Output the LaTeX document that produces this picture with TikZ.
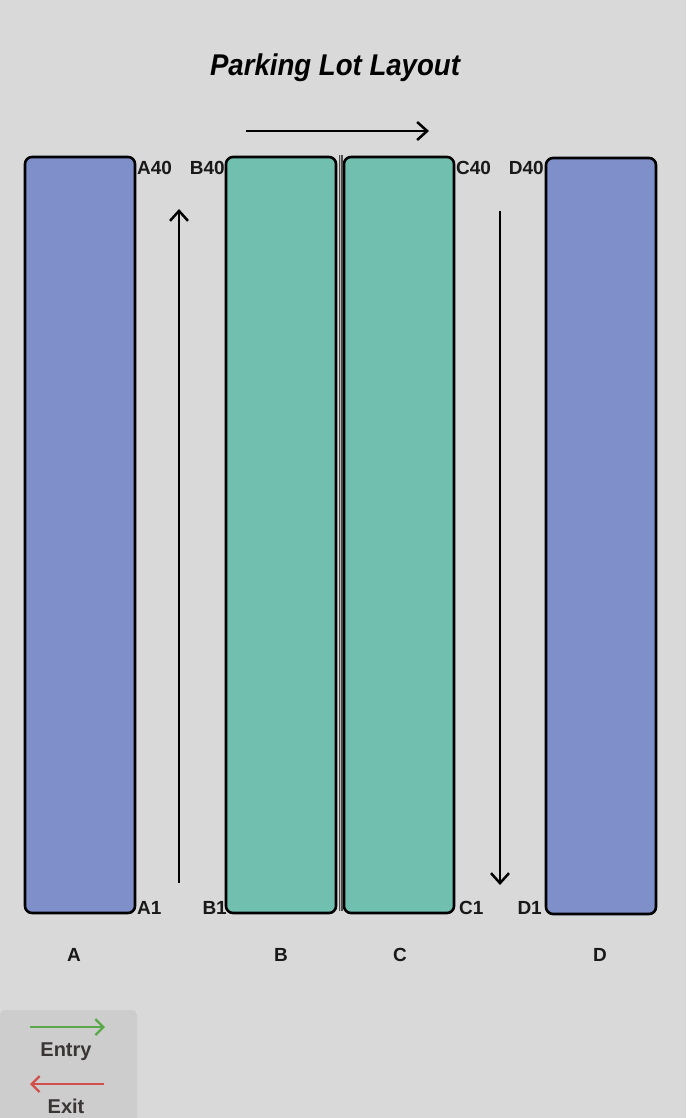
\documentclass[tikz,border=0pt]{standalone}
\usepackage{fontspec}
\setmainfont{Liberation Sans}
\usetikzlibrary{arrows.meta}
\definecolor{bgc}{HTML}{D9D9D9}
\definecolor{blueslot}{HTML}{7E8FC9}
\definecolor{greenslot}{HTML}{70BFAF}
\definecolor{legendbg}{HTML}{CDCDCD}
\definecolor{entryc}{HTML}{5BA84A}
\definecolor{exitc}{HTML}{D0504C}
\definecolor{legtext}{HTML}{3A3535}
\tikzset{
  row/.style={draw=black, line width=2.6pt, rounded corners=7pt},
  lab/.style={font=\fontsize{19}{19}\selectfont\bfseries, text=black!90, inner sep=0pt},
  rowlab/.style={font=\fontsize{19}{19}\selectfont\bfseries, text=black!90, inner sep=0pt},
  flow/.style={line width=2.5pt, -{Straight Barb[length=10pt,width=18pt,line width=2.5pt]}},
}
\begin{document}
\begin{tikzpicture}[x=1pt,y=-1pt]
\fill[bgc] (0,0) rectangle (686,1118);
\useasboundingbox (0,0) rectangle (686,1118);
\node[font=\fontsize{30}{30}\selectfont\bfseries\itshape, inner sep=0pt, xscale=0.92] (title) at (335,68) {Parking Lot Layout};
% rows
\draw[row, fill=blueslot] (25,157) rectangle (135,913);
\draw[row, fill=greenslot] (226,157) rectangle (336,913);
\draw[row, fill=greenslot] (344,157) rectangle (454,913);
\draw[row, fill=blueslot] (546,158) rectangle (656,914);
\coordinate (divt) at (340.5,155);
\coordinate (divb) at (340.5,911);
\draw[line width=4pt, black!70] (divt) -- (divb);
\draw[line width=1.6pt, gray!55] (divt) -- (divb);
% flow arrows
\coordinate (upS) at (179,883);
\coordinate (upE) at (179,209);
\coordinate (topS) at (246,131);
\coordinate (topE) at (429,131);
\coordinate (dnS) at (500,211);
\coordinate (dnE) at (500,885);
\draw[flow] (upS) -- (upE);
\draw[flow] (topS) -- (topE);
\draw[flow] (dnS) -- (dnE);
% spot labels
\node[lab, anchor=west] (a40) at (137,168) {A40};
\node[lab, anchor=east] (b40) at (225,168) {B40};
\node[lab, anchor=west] (c40) at (456,168) {C40};
\node[lab, anchor=east] (d40) at (544,168) {D40};
\node[lab, anchor=west] (a1) at (137,908) {A1};
\node[lab, anchor=east] (b1) at (227,908) {B1};
\node[lab, anchor=west] (c1) at (459,908) {C1};
\node[lab, anchor=east] (d1) at (542,908) {D1};
% row labels
\node[rowlab] (la) at (74,955) {A};
\node[rowlab] (lb) at (281,955) {B};
\node[rowlab] (lc) at (400,955) {C};
\node[rowlab] (ld) at (600,955) {D};
% legend
\fill[legendbg, rounded corners=5pt] (0,1010) rectangle (137,1130);
\coordinate (enS) at (30,1027);
\coordinate (enE) at (105,1027);
\coordinate (exS) at (104,1084);
\coordinate (exE) at (30,1084);
\draw[entryc, line width=2.3pt, -{Straight Barb[length=8pt,width=16pt,line width=2.3pt]}] (enS) -- (enE);
\draw[exitc, line width=2.3pt, -{Straight Barb[length=8pt,width=16pt,line width=2.3pt]}] (exS) -- (exE);
\node[font=\fontsize{20}{20}\selectfont\bfseries, text=legtext, inner sep=0pt] (entry) at (66,1052) {Entry};
\node[font=\fontsize{20}{20}\selectfont\bfseries, text=legtext, inner sep=0pt] (exit) at (66,1106) {Exit};
\end{tikzpicture}
\end{document}
